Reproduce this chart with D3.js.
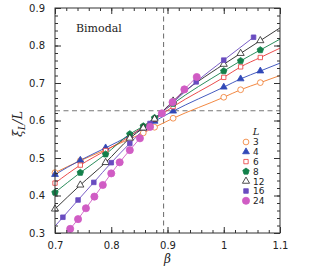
<!DOCTYPE html>
<html>
<head>
<meta charset="utf-8">
<script src="https://cdn.jsdelivr.net/npm/d3@7"></script>
<style>
body { margin: 0; background: #fff; }
svg { display: block; }
</style>
</head>
<body>
<script>
// values
var sizes = ['3', '4', '6', '8', '12', '16', '24'];
var betaSmall = [0.70, 0.745, 0.79, 0.833, 0.857, 0.877, 0.91, 1.0, 1.03, 1.065];
var xiL3  = [0.461, 0.493, 0.522, 0.551, 0.567, 0.582, 0.606, 0.662, 0.682, 0.701];
var xiL4  = [0.456, 0.494, 0.527, 0.560, 0.580, 0.598, 0.625, 0.689, 0.711, 0.732];
var xiL6  = [0.433, 0.481, 0.520, 0.558, 0.584, 0.604, 0.637, 0.715, 0.743, 0.768];
var xiL8  = [0.408, 0.461, 0.510, 0.564, 0.585, 0.607, 0.645, 0.732, 0.759, 0.788];
var xiL12 = [0.364, 0.428, 0.488, 0.553, 0.580, 0.604, 0.652, 0.750, 0.779, 0.813];
var beta16 = [0.714, 0.741, 0.769, 0.80, 0.833, 0.869, 0.91, 0.951, 1.0, 1.053];
var xiL16  = [0.342, 0.388, 0.435, 0.4875, 0.539, 0.592, 0.648, 0.703, 0.761, 0.822];
var beta24 = [0.727, 0.741, 0.755, 0.77, 0.785, 0.80, 0.815, 0.833, 0.851, 0.869, 0.89, 0.909, 0.93, 0.952];
var xiL24  = [0.311, 0.337, 0.366, 0.397, 0.428, 0.459, 0.4885, 0.521, 0.5525, 0.583, 0.619, 0.649, 0.683, 0.716];
var xTicks = [0.7, 0.8, 0.9, 1, 1.1];
var yTicks = [0.3, 0.4, 0.5, 0.6, 0.7, 0.8, 0.9];
var crossBeta = 0.893;
var crossXi = 0.626;

var W = 311, H = 269;
var svg = d3.select('body').append('svg').attr('width', W).attr('height', H);

var x = d3.scaleLinear().domain([0.7, 1.1]).range([55, 280]);
var y = d3.scaleLinear().domain([0.3, 0.9]).range([233, 8]);

svg.append('clipPath').attr('id', 'plot').append('rect')
  .attr('x', 55).attr('y', 8).attr('width', 225).attr('height', 225);

// pentagon symbol for L=8
var symbolPentagon = {
  draw: function(ctx, size) {
    var r = Math.sqrt(size / 2.378);
    for (var i = 0; i < 5; i++) {
      var a = -Math.PI / 2 + i * 2 * Math.PI / 5;
      if (i === 0) ctx.moveTo(r * Math.cos(a), r * Math.sin(a));
      else ctx.lineTo(r * Math.cos(a), r * Math.sin(a));
    }
    ctx.closePath();
  }
};

var series = [
  {L: '3',  b: betaSmall, v: xiL3,  color: '#f07a2c', sym: d3.symbolCircle,   size: 26, open: true,  left: true, right: true},
  {L: '4',  b: betaSmall, v: xiL4,  color: '#3048b8', sym: d3.symbolTriangle, size: 20, open: false, left: true, right: true},
  {L: '6',  b: betaSmall, v: xiL6,  color: '#e83838', sym: d3.symbolSquare,   size: 19, open: true,  left: true, right: true},
  {L: '8',  b: betaSmall, v: xiL8,  color: '#13804a', sym: symbolPentagon,    size: 27, open: false, left: true, right: true},
  {L: '12', b: betaSmall, v: xiL12, color: '#222222', sym: d3.symbolTriangle, size: 22, open: true,  left: true, right: true},
  {L: '16', b: beta16,    v: xiL16, color: '#6a4cc0', sym: d3.symbolSquare,   size: 21, open: false, left: true, right: false},
  {L: '24', b: beta24,    v: xiL24, color: '#d05cc4', sym: d3.symbolCircle,   size: 40, open: false, left: true, right: false}
];

// line through the points, stretched out to the frame along the end segments
function linePoints(s) {
  var pts = s.b.map(function(b, i) { return [b, s.v[i]]; });
  var n = pts.length;
  if (s.left && pts[0][0] > 0.7) {
    var k0 = (pts[1][1] - pts[0][1]) / (pts[1][0] - pts[0][0]);
    pts.unshift([0.7, pts[0][1] - k0 * (pts[0][0] - 0.7)]);
  }
  n = pts.length;
  if (s.right) {
    var k1 = (pts[n - 1][1] - pts[n - 2][1]) / (pts[n - 1][0] - pts[n - 2][0]);
    pts.push([1.1, pts[n - 1][1] + k1 * (1.1 - pts[n - 1][0])]);
  }
  return pts;
}

var line = d3.line()
  .x(function(d) { return x(d[0]); })
  .y(function(d) { return y(d[1]); })
  .curve(d3.curveMonotoneX);

// dashed guides
svg.append('line')
  .attr('x1', x(crossBeta)).attr('x2', x(crossBeta)).attr('y1', y(0.9)).attr('y2', y(0.3))
  .attr('stroke', '#777').attr('stroke-width', 1.1).attr('stroke-dasharray', '5,3.5');
svg.append('line')
  .attr('x1', x(0.7)).attr('x2', x(1.1)).attr('y1', y(crossXi)).attr('y2', y(crossXi))
  .attr('stroke', '#777').attr('stroke-width', 1.1).attr('stroke-dasharray', '5,3.5');

var gLines = svg.append('g').attr('clip-path', 'url(#plot)');
series.forEach(function(s) {
  gLines.append('path')
    .attr('d', line(linePoints(s)))
    .attr('fill', 'none')
    .attr('stroke', s.color)
    .attr('stroke-width', 0.9);
});

series.forEach(function(s) {
  svg.append('g').selectAll('path')
    .data(s.b.map(function(b, i) { return [b, s.v[i]]; }))
    .enter().append('path')
    .attr('transform', function(d) { return 'translate(' + x(d[0]) + ',' + y(d[1]) + ')'; })
    .attr('d', d3.symbol().type(s.sym).size(s.size))
    .attr('fill', s.open ? '#fff' : s.color)
    .attr('stroke', s.color)
    .attr('stroke-width', 0.8);
});

// axes, ticks inward on all sides
var minorX = d3.range(0.7, 1.1001, 0.02);
var minorY = d3.range(0.3, 0.9001, 0.02);
var fmt = d3.format('~g');

function axisGroup(axis, tx, ty) {
  var g = svg.append('g').attr('transform', 'translate(' + tx + ',' + ty + ')').call(axis);
  g.select('.domain').remove();
  g.selectAll('line').attr('stroke', '#333');
  g.selectAll('text').attr('font-family', 'DejaVu Sans').attr('font-size', 10).attr('fill', '#222');
  return g;
}

axisGroup(d3.axisBottom(x).tickValues(minorX).tickSize(-3).tickFormat(''), 0, 233);
axisGroup(d3.axisTop(x).tickValues(minorX).tickSize(-3).tickFormat(''), 0, 8);
axisGroup(d3.axisLeft(y).tickValues(minorY).tickSize(-3).tickFormat(''), 55, 0);
axisGroup(d3.axisRight(y).tickValues(minorY).tickSize(-3).tickFormat(''), 280, 0);

axisGroup(d3.axisBottom(x).tickValues(xTicks).tickSize(-6).tickPadding(9).tickFormat(fmt), 0, 233);
axisGroup(d3.axisTop(x).tickValues(xTicks).tickSize(-6).tickFormat(''), 0, 8);
axisGroup(d3.axisLeft(y).tickValues(yTicks).tickSize(-6).tickPadding(10).tickFormat(d3.format('.1f')), 55, 0);
axisGroup(d3.axisRight(y).tickValues(yTicks).tickSize(-6).tickFormat(''), 280, 0);

svg.append('rect')
  .attr('x', 55).attr('y', 8).attr('width', 225).attr('height', 225)
  .attr('fill', 'none').attr('stroke', '#333').attr('stroke-width', 1);

// labels
svg.append('text').attr('x', 76).attr('y', 32)
  .attr('font-family', 'DejaVu Serif').attr('font-size', 11).attr('fill', '#222')
  .text('Bimodal');

svg.append('text').attr('x', x(0.9)).attr('y', 263)
  .attr('text-anchor', 'middle')
  .attr('font-family', 'DejaVu Serif').attr('font-style', 'italic').attr('font-size', 12).attr('fill', '#222')
  .text('β');

var yl = svg.append('text')
  .attr('transform', 'translate(22,124) rotate(-90)')
  .attr('text-anchor', 'middle')
  .attr('font-family', 'DejaVu Serif').attr('font-style', 'italic').attr('font-size', 13).attr('fill', '#222');
yl.append('tspan').text('ξ');
yl.append('tspan').attr('font-size', 9).attr('dy', 3).text('L');
yl.append('tspan').attr('dy', -3).text('/L');

// legend
var lg = svg.append('g');
lg.append('text').attr('x', 256).attr('y', 135)
  .attr('text-anchor', 'middle')
  .attr('font-family', 'DejaVu Serif').attr('font-style', 'italic').attr('font-size', 10).attr('fill', '#222')
  .text('L');
series.forEach(function(s, i) {
  var yy = 142 + i * 9.8;
  lg.append('path')
    .attr('transform', 'translate(246,' + yy + ')')
    .attr('d', d3.symbol().type(s.sym).size(s.size))
    .attr('fill', s.open ? '#fff' : s.color)
    .attr('stroke', s.color)
    .attr('stroke-width', 0.8);
  lg.append('text').attr('x', 253).attr('y', yy + 3.3)
    .attr('font-family', 'DejaVu Sans').attr('font-size', 9).attr('fill', '#222')
    .text(sizes[i]);
});
</script>
</body>
</html>
